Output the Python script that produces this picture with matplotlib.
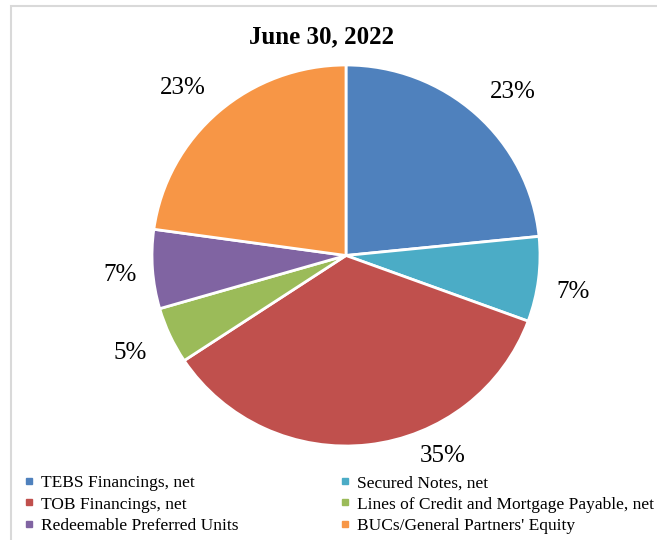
import matplotlib.pyplot as plt
from matplotlib.lines import Line2D
from matplotlib.patches import Rectangle

# データ (June 30, 2022)
labels = ["TEBS Financings, net", "Secured Notes, net", "TOB Financings, net",
          "Lines of Credit and Mortgage Payable, net", "Redeemable Preferred Units",
          "BUCs/General Partners' Equity"]
shares = [23.4, 7.2, 35.1, 4.8, 6.7, 22.8]
colors = ["#4F81BD", "#4BACC6", "#C0504D", "#9BBB59", "#8064A2", "#F79646"]

# ラベル位置 (半径=1 の座標系, Excel の best-fit 配置に合わせる)
label_pos = [(0.86, 0.86), (1.17, -0.19), (0.50, -1.05),
             (-1.11, -0.51), (-1.165, -0.10), (-0.84, 0.88)]

plt.rcParams['font.family'] = ['Liberation Serif', 'DejaVu Serif']

fig = plt.figure(figsize=(6.57, 5.40), dpi=100)

# 外枠 (薄いグレー)
fig.patches.append(Rectangle((11 / 657, -0.05), 1.1, 1 - 6 / 540 + 0.05, transform=fig.transFigure,
                             fill=False, edgecolor="#d9d9d9", linewidth=1.5))

# --- 円グラフ (元画像はわずかに横長) ---
cx, cy, rx, ry = 346, 255.5, 194, 190.5
ax = fig.add_axes([(cx - rx) / 657, (540 - cy - ry) / 540, 2 * rx / 657, 2 * ry / 540])
wedges, texts, autotexts = ax.pie(shares, colors=colors, startangle=90, counterclock=False,
                                  autopct='%.0f%%', pctdistance=1.19,
                                  wedgeprops=dict(edgecolor='white', linewidth=2),
                                  textprops=dict(fontsize=18, color='black'))
for t, p in zip(autotexts, label_pos):
    t.set_position(p)
ax.set_aspect('auto')
ax.set_xlim(-1, 1); ax.set_ylim(-1, 1); ax.axis('off')

fig.text(322 / 657, 1 - 37 / 540, "June 30, 2022", ha='center', va='center',
         fontsize=18, fontweight='bold')

# --- 凡例 (行ごとに2列) ---
order = [0, 2, 4, 1, 3, 5]
handles = [Line2D([], [], marker='s', linestyle='none', markersize=5,
                  markerfacecolor=colors[i], markeredgecolor=colors[i]) for i in order]
fig.legend(handles, [labels[i] for i in order], ncol=2, mode='expand',
           bbox_to_anchor=(24 / 657, 0.0, (654 - 24) / 657, 65 / 540), loc='upper left',
           frameon=False, fontsize=12.5, handlelength=0.6, handletextpad=0.4,
           labelspacing=0.3, borderaxespad=0, borderpad=0)

plt.savefig("out.png", dpi=100)
